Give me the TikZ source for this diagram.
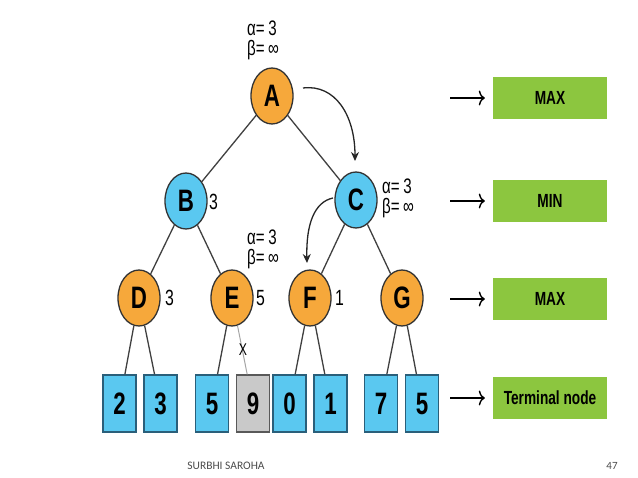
\documentclass[tikz,border=0pt]{standalone}
\usepackage{fontspec}
\setmainfont{Liberation Sans}
\newfontfamily\cond[FakeStretch=0.72]{Liberation Sans}
\newfontfamily\footfont{Carlito}
\usetikzlibrary{shapes.geometric,arrows.meta}
\definecolor{orng}{HTML}{F6A83B}
\definecolor{blu}{HTML}{5AC8F0}
\definecolor{grn}{HTML}{8CC63F}
\definecolor{bdr}{HTML}{2A5F7A}
\definecolor{gry}{HTML}{C9C9C9}
\begin{document}
\begin{tikzpicture}[x=1pt,y=-1pt,
  treenode/.style={ellipse, draw=black!80, line width=1.3pt, minimum width=42pt, minimum height=56pt, inner sep=0pt, font=\cond\bfseries\fontsize{31}{31}\selectfont},
  maxnode/.style={treenode, fill=orng},
  minnode/.style={treenode, fill=blu},
  leaf/.style={rectangle, draw=bdr, line width=1.3pt, fill=blu, minimum width=33pt, minimum height=57pt, inner sep=0pt, font=\cond\bfseries\fontsize{31}{31}\selectfont},
  side/.style={anchor=west, inner sep=0pt, font=\cond\fontsize{22}{22}\selectfont},
  ab/.style={anchor=west, align=left, inner sep=0pt, font=\cond\fontsize{21}{20}\selectfont},
  link/.style={draw=black!75, line width=1.3pt},
  curv/.style={draw=black!85, line width=1.3pt, -{Stealth[length=9pt,width=8pt]}},
  level/.style={rectangle, fill=grn, minimum width=114pt, minimum height=42pt, inner sep=0pt, font=\cond\bfseries\fontsize{19}{19}\selectfont},
  levarrow/.style={draw=black, line width=1.4pt, -{To[length=6pt,width=15pt]}, shorten >=8pt}
]
\useasboundingbox (0,0) rectangle (638,478);
\fill[white] (0,0) rectangle (638,478);

% tree nodes
\node[maxnode] (A) at (272,96) {A};
\node[minnode] (B) at (186,201) {B};
\node[minnode] (C) at (356,200) {C};
\node[maxnode] (D) at (139,298) {D};
\node[maxnode] (E) at (232,298) {E};
\node[maxnode] (F) at (310,298) {F};
\node[maxnode] (G) at (402,298) {G};

% leaves
\node[leaf] (l1) at (119.5,403.5) {2};
\node[leaf] (l2) at (160.5,403.5) {3};
\node[leaf] (l3) at (212,403.5) {5};
\node[leaf, fill=gry, draw=black!65] (l4) at (253,403.5) {9};
\node[leaf] (l5) at (289.5,403.5) {0};
\node[leaf] (l6) at (330.5,403.5) {1};
\node[leaf] (l7) at (381,403.5) {7};
\node[leaf] (l8) at (422,403.5) {5};

% edges
\draw[link] (A) -- (B);
\draw[link] (A) -- (C);
\draw[link] (B) -- (D);
\draw[link] (B) -- (E);
\draw[link] (C) -- (F);
\draw[link] (C) -- (G);
\draw[link] (D) -- (l1);
\draw[link] (D) -- (l2);
\draw[link] (E) -- (l3);
\draw[draw=black!35, line width=1pt] (E) -- (l4);
\draw[link] (F) -- (l5);
\draw[link] (F) -- (l6);
\draw[link] (G) -- (l7);
\draw[link] (G) -- (l8);
\node[font=\cond\fontsize{17}{17}\selectfont, inner sep=0pt] (x) at (243,350) {X};

% values
\node[side] (vb) at (209,202) {3};
\node[side] (vd) at (165,298) {3};
\node[side] (ve) at (256,298) {5};
\node[side] (vf) at (335,298) {1};

% alpha beta labels
\node[ab] (abA) at (247,40) {α=\,3\\β=\,∞};
\node[ab] (abC) at (382,198) {α=\,3\\β=\,∞};
\node[ab] (abE) at (247,249) {α=\,3\\β=\,∞};

% curved arrows
\coordinate (acs) at (303,88);
\coordinate (ace) at (355,161);
\draw[curv] (acs) .. controls (335,84) and (355,115) .. (ace);
\coordinate (cfs) at (333,198);
\coordinate (cfe) at (307,263);
\draw[curv] (cfs) .. controls (314,202) and (306,225) .. (cfe);

% level boxes
\node[level] (L1) at (550,98) {MAX};
\node[level] (L2) at (550,201) {MIN};
\node[level] (L3) at (550,299) {MAX};
\node[level] (L4) at (550,398) {Terminal node};
\coordinate (s1) at (450,98);
\coordinate (s2) at (450,201);
\coordinate (s3) at (450,299);
\coordinate (s4) at (450,398);
\draw[levarrow] (s1) -- (L1);
\draw[levarrow] (s2) -- (L2);
\draw[levarrow] (s3) -- (L3);
\draw[levarrow] (s4) -- (L4);

% footer
\node[font=\footfont\fontsize{11.5}{11.5}\selectfont, text=black!70, inner sep=0pt] (ft) at (226,466) {SURBHI SAROHA};
\node[font=\footfont\fontsize{11}{11}\selectfont, text=black!70, inner sep=0pt] (pg) at (612,466) {47};
\end{tikzpicture}
\end{document}
